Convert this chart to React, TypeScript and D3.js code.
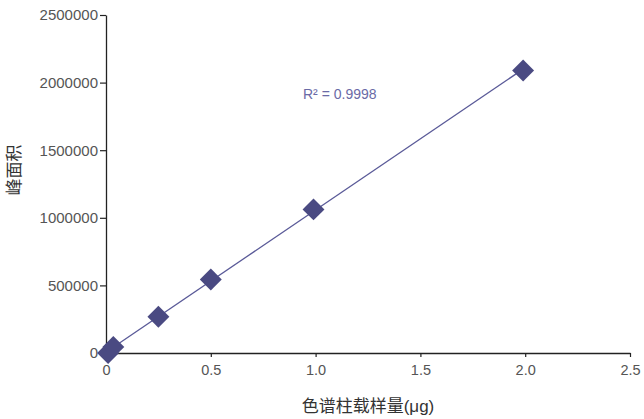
import { useEffect, useRef } from "react";
import * as d3 from "d3";

// sample load (μg) vs peak area
const loadings = [0.01, 0.035, 0.25, 0.5, 0.99, 1.99];
const peakAreas = [0, 45000, 268000, 544000, 1062000, 2090000];
const xTicks = [0, 0.5, 1.0, 1.5, 2.0, 2.5];
const yTicks = [0, 500000, 1000000, 1500000, 2000000, 2500000];
const r2Label = "R² = 0.9998";
const xTitle = "色谱柱载样量(μg)";
const yTitle = "峰面积";

const W = 644;
const H = 419;

function fitLine(xs: number[], ys: number[]) {
  const n = xs.length;
  const mx = d3.mean(xs) ?? 0;
  const my = d3.mean(ys) ?? 0;
  let sxy = 0;
  let sxx = 0;
  for (let i = 0; i < n; i++) {
    sxy += (xs[i] - mx) * (ys[i] - my);
    sxx += (xs[i] - mx) ** 2;
  }
  const slope = sxy / sxx;
  return { slope, intercept: my - slope * mx };
}

export default function App() {
  const svgRef = useRef<SVGSVGElement>(null);

  useEffect(() => {
    if (!svgRef.current) return;
    const svg = d3.select(svgRef.current);
    svg.selectAll("*").remove();

    const margin = { top: 15, right: 14, bottom: 66, left: 106 };
    const x = d3.scaleLinear().domain([0, 2.5]).range([margin.left, W - margin.right]);
    const y = d3.scaleLinear().domain([0, 2500000]).range([H - margin.bottom, margin.top]);

    const font = '"Liberation Sans", Arial, "Noto Sans CJK SC", sans-serif';
    const axisColor = "#222";
    const labelColor = "#555";
    const mark = "#4a4a82";

    const xAxis = svg
      .append("g")
      .attr("transform", `translate(0,${y(0)})`)
      .call(
        d3
          .axisBottom(x)
          .tickValues(xTicks)
          .tickSize(4)
          .tickSizeOuter(0)
          .tickFormat((d) => (d === 0 ? "0" : d3.format(".1f")(d as number)))
      );
    xAxis.select(".domain").attr("stroke", axisColor).attr("stroke-width", 1.3);
    xAxis.selectAll(".tick line").attr("stroke", axisColor).attr("stroke-width", 1.2);
    xAxis
      .selectAll(".tick text")
      .attr("fill", labelColor)
      .attr("dy", "1.0em")
      .style("font-family", font)
      .style("font-size", "14.5px");

    const yAxis = svg
      .append("g")
      .attr("transform", `translate(${x(0)},0)`)
      .call(d3.axisLeft(y).tickValues(yTicks).tickSize(6).tickSizeOuter(0).tickFormat(d3.format("d")));
    yAxis.select(".domain").attr("stroke", axisColor).attr("stroke-width", 1.3);
    yAxis.selectAll(".tick line").attr("stroke", axisColor).attr("stroke-width", 1.2);
    yAxis
      .selectAll(".tick text")
      .attr("fill", labelColor)
      .attr("x", -8)
      .style("font-family", font)
      .style("font-size", "15px");

    // trend line
    const { slope, intercept } = fitLine(loadings, peakAreas);
    const x0 = d3.min(loadings) ?? 0;
    const x1 = d3.max(loadings) ?? 0;
    svg
      .append("line")
      .attr("x1", x(x0))
      .attr("y1", y(slope * x0 + intercept))
      .attr("x2", x(x1))
      .attr("y2", y(slope * x1 + intercept))
      .attr("stroke", "#5a5a98")
      .attr("stroke-width", 1.3);

    const square = d3.symbol().type(d3.symbolSquare).size(240);
    svg
      .append("g")
      .selectAll("path")
      .data(loadings.map((v, i) => [v, peakAreas[i]] as [number, number]))
      .join("path")
      .attr("d", square())
      .attr("transform", (d) => `translate(${x(d[0])},${y(d[1])}) rotate(45)`)
      .attr("fill", mark);

    svg
      .append("text")
      .attr("x", 303)
      .attr("y", 99)
      .attr("fill", "#6a6aa6")
      .style("font-family", font)
      .style("font-size", "14px")
      .text(r2Label);

    svg
      .append("text")
      .attr("x", (x(0) + x(2.5)) / 2)
      .attr("y", 412)
      .attr("text-anchor", "middle")
      .attr("fill", "#333")
      .style("font-family", font)
      .style("font-size", "17px")
      .text(xTitle);

    svg
      .append("text")
      .attr("transform", `translate(20,170) rotate(-90)`)
      .attr("text-anchor", "middle")
      .attr("fill", "#333")
      .style("font-family", font)
      .style("font-size", "17px")
      .text(yTitle);
  }, []);

  return (
    <div style={{ position: "fixed", left: 0, top: 0, background: "#fff" }}>
      <svg ref={svgRef} width={W} height={H} style={{ display: "block" }} />
    </div>
  );
}
